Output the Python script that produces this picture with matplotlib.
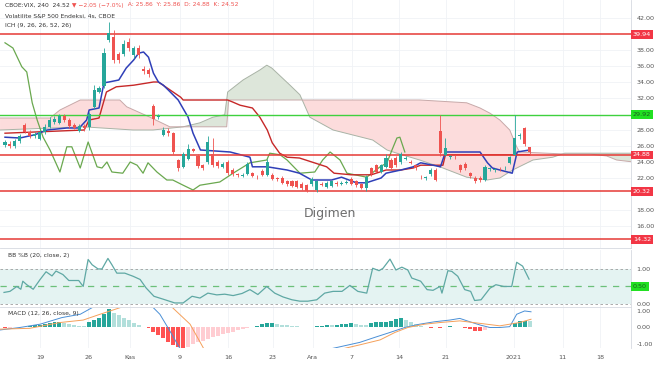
import numpy as np
import matplotlib.pyplot as plt
from matplotlib.transforms import blended_transform_factory

# 4h candles (bar index 0..106)
opens = [26.1, 26.3, 26.0, 26.6, 28.6, 27.8, 27.2, 26.9, 27.7, 28.4,
         29.0, 28.9, 29.8, 29.3, 28.6, 27.9, 28.5, 28.4, 30.9, 32.8,
         33.5, 39.3, 39.6, 37.5, 37.5, 39.0, 37.4, 38.2, 35.6, 35.5,
         31.0, 29.6, 27.4, 27.9, 27.6, 24.2, 23.4, 24.4, 25.6, 24.8,
         23.6, 24.0, 25.0, 24.0, 23.4, 24.0, 23.0, 22.4, 22.3, 22.5,
         22.6, 22.2, 22.9, 22.4, 22.4, 21.9, 22.0, 21.6, 21.6, 21.6,
         21.3, 21.1, 21.2, 20.5, 21.3, 20.9, 21.0, 21.4, 21.3, 21.4,
         21.9, 21.6, 21.2, 20.7, 23.2, 23.6, 22.8, 23.4, 24.3, 24.5,
         24.0, 24.4, 24.0, 23.6, 22.2, 22.0, 22.5, 23.0, 27.9, 24.9,
         24.6, 24.7, 23.6, 23.8, 22.6, 22.0, 22.0, 21.8, 23.1, 23.0,
         23.2, 23.2, 23.9, 24.9, 27.3, 28.3, 25.9]
highs = [26.8, 26.6, 26.9, 27.5, 28.9, 28.0, 27.7, 28.0, 28.7, 29.6,
         29.7, 30.0, 30.0, 29.5, 28.9, 28.8, 28.7, 30.3, 33.6, 33.5,
         38.2, 41.5, 40.5, 37.8, 39.3, 39.5, 38.5, 38.6, 36.0, 35.8,
         31.2, 30.0, 28.4, 28.2, 27.8, 24.4, 25.3, 26.2, 25.8, 25.0,
         23.8, 27.3, 27.0, 24.2, 24.0, 24.2, 23.2, 22.6, 22.6, 24.0,
         22.8, 22.4, 23.1, 24.4, 22.6, 22.1, 22.2, 21.8, 21.8, 21.8,
         21.5, 21.3, 22.1, 21.8, 21.5, 21.6, 21.8, 21.6, 21.6, 21.7,
         22.1, 21.8, 21.4, 22.4, 23.4, 23.8, 23.8, 25.0, 24.5, 24.7,
         25.3, 24.7, 24.2, 23.8, 22.4, 22.3, 23.2, 23.2, 29.9, 27.0,
         24.9, 24.9, 23.8, 24.0, 22.8, 22.2, 22.2, 23.6, 23.4, 23.3,
         23.4, 23.5, 24.8, 29.9, 27.6, 28.4, 25.9]
lows = [25.9, 25.8, 25.8, 26.4, 27.6, 27.0, 27.0, 26.7, 27.5, 28.2,
        28.8, 28.7, 29.0, 28.3, 28.1, 27.7, 27.9, 28.0, 30.6, 32.6,
        33.2, 39.0, 36.4, 36.4, 37.2, 37.9, 37.0, 37.0, 35.0, 34.6,
        28.6, 29.4, 27.2, 27.3, 25.0, 22.9, 23.2, 24.2, 25.2, 23.2,
        23.0, 23.8, 23.4, 23.3, 23.2, 22.4, 22.3, 22.1, 22.1, 22.4,
        22.1, 21.9, 22.2, 22.2, 21.7, 21.6, 21.2, 21.0, 20.9, 20.7,
        20.5, 20.2, 21.0, 20.3, 21.0, 20.8, 20.9, 21.0, 21.1, 21.2,
        21.1, 20.9, 20.6, 20.4, 22.3, 22.6, 22.6, 23.2, 23.0, 23.4,
        23.8, 24.2, 23.7, 23.0, 21.9, 21.8, 22.3, 21.6, 24.8, 24.7,
        24.4, 24.4, 22.8, 23.0, 22.0, 21.4, 21.5, 21.6, 22.9, 22.8,
        22.9, 23.0, 23.7, 24.7, 26.9, 26.0, 24.9]
closes = [26.5, 26.0, 26.6, 27.2, 27.8, 27.3, 27.5, 27.7, 28.4, 29.3,
          29.4, 29.7, 29.2, 28.5, 28.3, 28.5, 28.2, 30.0, 33.0, 33.2,
          37.6, 40.1, 36.8, 36.8, 38.8, 38.2, 38.2, 37.4, 35.4, 35.0,
          29.4, 29.8, 28.0, 27.6, 25.3, 23.2, 25.0, 25.6, 25.4, 23.5,
          23.3, 26.5, 23.6, 23.5, 23.8, 22.6, 22.5, 22.3, 22.4, 23.8,
          22.3, 22.1, 22.4, 24.0, 21.9, 21.8, 21.4, 21.2, 21.0, 20.9,
          20.7, 20.4, 21.9, 21.6, 21.1, 21.4, 21.6, 21.2, 21.4, 21.5,
          21.3, 21.1, 20.8, 22.1, 22.5, 22.8, 23.6, 24.5, 23.2, 23.6,
          25.0, 24.5, 23.9, 23.2, 22.1, 22.1, 23.0, 21.8, 25.1, 25.8,
          24.7, 24.6, 23.0, 23.2, 22.2, 21.6, 21.7, 23.4, 23.2, 23.1,
          23.1, 23.3, 24.6, 27.0, 27.4, 26.2, 25.2]

# Ichimoku lines (bar index, price)
tenkan_x = [0, 3, 6, 8.5, 12.5, 15, 16.5, 17, 19, 20, 21, 23, 24.5, 26, 27, 28, 29, 30, 31, 32,
            33, 35, 37, 38, 39.5, 45.5, 49.5, 50, 53, 57, 59.5, 62, 66, 68, 71, 73, 76, 77, 80, 82.5,
            84, 86.5, 88, 89, 96, 97.5, 98.5, 100, 102.5, 103.5, 106]
tenkan_y = [27.1, 27.0, 27.4, 28.0, 28.25, 28.25, 29.25, 30.5, 30.75, 33.9, 34.0, 34.25, 35.75, 36.75, 37.6, 37.75, 37.1, 35.1, 34.0, 33.6,
            33.0, 31.75, 29.6, 27.6, 25.5, 25.25, 24.6, 23.4, 23.4, 23.0, 22.6, 21.75, 21.75, 22.1, 21.4, 21.4, 22.0, 22.6, 23.0, 23.4,
            23.9, 23.6, 23.4, 25.25, 25.25, 23.9, 23.25, 23.0, 22.6, 25.25, 25.5]
kijun_x = [0, 16, 17, 19, 20.5, 22.5, 26, 30, 31, 35.5, 36, 45, 46, 47.5, 50, 51.5, 53, 54, 55.5, 57,
           59.5, 62, 65, 66.5, 70, 74, 77, 80, 82.5, 84, 88.5, 89, 106]
kijun_y = [27.6, 28.0, 29.25, 29.5, 32.75, 33.4, 33.6, 34.0, 34.0, 32.1, 31.75, 31.75, 31.5, 31.1, 30.75, 29.6, 28.0, 26.4, 25.1, 24.6,
           24.5, 24.0, 23.4, 22.6, 22.4, 22.4, 23.0, 23.0, 23.25, 23.6, 23.6, 24.9, 24.9]
chikou_x = [0, 1.6, 3.4, 4.4, 5.5, 6.5, 7.7, 9.1, 11.1, 12.5, 13.5, 15.2, 16.8, 18.6, 19.6, 20.6, 21.6, 23.8, 25.3, 26.7,
            27.9, 28.9, 30.7, 32.7, 33.9, 36.0, 38.0, 39.4, 43.4, 46.1, 49.5, 52.9, 53.5, 55.6, 57.0, 59.6, 62.6, 64.2, 65.7, 67.7,
            69.1, 73.1, 75.8, 77.2, 78.2, 79.2, 79.8, 80.8]
chikou_y = [38.9, 38.25, 35.9, 35.25, 31.4, 29.25, 27.1, 25.5, 22.75, 25.9, 25.9, 23.25, 26.5, 23.4, 23.25, 24.0, 22.75, 22.6, 24.0, 23.6,
            22.6, 23.9, 22.75, 21.75, 21.75, 21.1, 20.5, 21.1, 21.5, 22.6, 23.9, 24.25, 25.1, 24.9, 24.25, 22.6, 22.75, 24.25, 25.25, 24.25,
            22.6, 22.1, 23.4, 23.9, 25.5, 27.0, 27.1, 25.25]
spana_x = [-1, 15.8, 25.9, 29.9, 36, 39.4, 42, 44.4, 45, 48.1, 51.5, 52.9, 53.9, 57.6, 59.6, 61.6, 66.3, 74.3, 77.2, 79.2,
           83.8, 88.5, 93.3, 97.4, 100, 102.6, 106.7, 110.7, 113.1, 121.6, 127]
spana_y = [28.0, 28.4, 28.0, 28.0, 28.4, 28.9, 29.6, 29.9, 32.75, 34.25, 35.5, 36.1, 35.75, 33.6, 32.4, 29.6, 28.0, 26.75, 25.5, 25.1,
           24.25, 23.25, 22.1, 21.75, 22.0, 23.0, 24.25, 24.6, 25.1, 25.1, 25.1]
spanb_x = [-1, 9.1, 11.1, 15.2, 23.2, 24.6, 29.3, 33.3, 44.8, 45.2, 83.8, 93.3, 96, 98, 100, 102, 103.4, 104, 113.1, 118.2,
           121.6, 123.6, 127]
spanb_y = [29.5, 29.5, 30.5, 31.75, 31.75, 30.9, 29.6, 28.4, 28.4, 31.75, 31.75, 31.4, 30.75, 30.1, 29.25, 28.0, 25.9, 25.25, 25.0, 25.0,
           24.75, 24.25, 24.0]

levels_red = [39.94, 24.88, 20.32, 14.32]
level_green = 29.92
price_ticks = [16, 18, 22, 24, 26, 28, 32, 34, 36, 38, 42]

# BB %B
bbp_x = [-0.2, 1.0, 2.4, 3.2, 3.6, 4.4, 5.7, 7.1, 8.3, 9.5, 10.3, 11.7, 12.9, 14.9, 15.8, 16.8, 17.6, 18.8, 19.6, 20.8,
         21.6, 22.6, 24.2, 25.9, 27.3, 28.5, 30.1, 31.9, 34.3, 36.0, 37.8, 39.4, 41.0, 42.8, 44.4, 46.1, 47.9, 49.5, 51.1, 52.9,
         54.5, 56.2, 58.0, 59.6, 61.2, 63.0, 64.6, 66.3, 68.1, 69.7, 71.3, 73.1, 74.3, 75.6, 76.4, 77.8, 79.0, 80.2, 81.4, 82.2,
         84.0, 85.3, 86.5, 87.9, 88.3, 89.5, 90.3, 91.5, 92.9, 94.1, 94.9, 96.2, 98.0, 99.2, 100.8, 102.4, 103.4, 104.6, 105.9]
bbp_y = [0.33, 0.36, 0.50, 0.42, 0.65, 0.55, 0.42, 0.70, 0.92, 0.80, 0.94, 0.84, 0.67, 0.67, 0.50, 1.27, 1.12, 1.00, 1.00, 1.30,
         1.12, 0.88, 0.88, 0.79, 0.70, 0.46, 0.22, 0.14, 0.03, 0.03, 0.22, 0.17, 0.31, 0.26, 0.28, 0.24, 0.30, 0.41, 0.27, 0.50,
         0.31, 0.20, 0.12, 0.08, 0.08, 0.12, 0.31, 0.36, 0.36, 0.53, 0.36, 0.31, 1.02, 0.95, 1.02, 1.28, 0.97, 1.05, 0.97, 0.74,
         0.65, 0.41, 0.39, 0.50, 0.31, 0.95, 0.93, 0.79, 0.41, 0.36, 0.10, 0.12, 0.45, 0.55, 0.50, 0.50, 1.19, 1.08, 0.71]

# MACD
macd_hist = [-0.05, -0.03, 0.02, 0.04, 0.06, 0.10, 0.14, 0.18, 0.22, 0.28,
             0.32, 0.34, 0.30, 0.24, 0.18, 0.12, 0.08, 0.35, 0.45, 0.55,
             0.80, 1.10, 0.90, 0.75, 0.60, 0.45, 0.30, 0.18, 0.05, -0.06,
             -0.25, -0.45, -0.65, -0.85, -1.05, -1.20, -1.27, -1.15, -1.00, -0.90,
             -0.80, -0.70, -0.60, -0.50, -0.42, -0.34, -0.26, -0.18, -0.11, -0.05,
             0.06, 0.12, 0.20, 0.26, 0.27, 0.22, 0.18, 0.14, 0.10, 0.08,
             0.05, 0.03, 0.06, 0.10, 0.12, 0.14, 0.13, 0.15, 0.20, 0.24,
             0.26, 0.22, 0.18, 0.16, 0.28, 0.32, 0.34, 0.36, 0.40, 0.50,
             0.55, 0.45, 0.32, 0.20, 0.10, 0.04, -0.03, 0.02, -0.04, 0.05,
             0.07, 0.06, 0.02, -0.02, -0.12, -0.20, -0.20, -0.15, -0.04, -0.02,
             0.01, 0.02, 0.05, 0.30, 0.42, 0.42, 0.38]
macd_x = [-1, 3, 7.1, 11.5, 15.2, 18.2, 22.2, 27.3, 29.3, 31.3, 33.3, 35.4, 37.4, 43.4, 51.5, 59.6, 65.7, 68.7, 71.7, 74.7,
          77.8, 80.8, 83.8, 86.9, 89.9, 91.9, 93.9, 96, 98, 100, 102, 103.4, 105, 106.3]
macd_y = [-0.15, 0.0, 0.2, 0.6, 0.8, 1.3, 2.0, 1.8, 1.4, 0.8, -0.2, -1.3, -2.0, -2.5, -2.2, -1.8, -1.3, -1.1, -0.9, -0.6,
          -0.3, 0.0, 0.2, 0.35, 0.45, 0.55, 0.35, 0.15, 0.0, 0.0, 0.05, 0.8, 1.0, 0.95]
sig_x = [-1, 5, 11.1, 15.8, 19.2, 25.3, 31.3, 33.5, 37.4, 40.2, 45.5, 53.5, 61.6, 68.1, 71.7, 75.8, 78.8, 81.4, 84.8, 87.9,
         91.9, 96, 100, 104, 106.3]
sig_y = [-0.1, -0.05, 0.3, 0.45, 0.8, 1.4, 1.6, 1.3, 0.2, -1.3, -2.0, -2.2, -2.0, -1.3, -1.05, -0.75, -0.3, 0.0, 0.2, 0.3,
         0.4, 0.25, 0.1, 0.3, 0.5]

tick_pos = [7.1, 16.8, 25.3, 35.4, 45.1, 54.1, 62.2, 70.1, 79.6, 89.1, 102.8, 112.7, 120.2]
tick_lab = ['19', '26', 'Kas', '9', '16', '23', 'Ara', '7', '14', '21', '2021', '11', '18']

UP, DOWN = '#26a69a', '#ef5350'
GRID = '#f0f2f6'
TXT = '#555555'
XLIM = (-1.01, 126.5)

fig = plt.figure(figsize=(6.54, 3.66), dpi=100)

def style(ax):
    for s in ['top', 'left', 'bottom']:
        ax.spines[s].set_visible(False)
    ax.spines['right'].set_color('#d6d9e0')
    ax.spines['right'].set_linewidth(0.6)
    ax.yaxis.tick_right()
    ax.tick_params(axis='y', length=0, pad=4, labelsize=4.6, colors=TXT)
    ax.set_xlim(*XLIM)
    ax.set_xticks(tick_pos)
    for t in tick_pos:
        ax.axvline(t, color=GRID, lw=0.6, zorder=0)

# ---- main price panel
ax = fig.add_axes([0, 0.3224, 0.9648, 0.6776])
style(ax)
ax.set_ylim(13.25, 44.25)
ax.set_yticks(price_ticks)
ax.set_yticklabels([f'{v:.2f}' for v in price_ticks])
ax.tick_params(axis='x', length=0, labelbottom=False)
for v in price_ticks:
    ax.axhline(v, color=GRID, lw=0.6, zorder=0)
ax.spines['bottom'].set_visible(True)
ax.spines['bottom'].set_color('#d6d9e0')
ax.spines['bottom'].set_linewidth(0.6)

# cloud (dense grid only used to shade between the two span polylines)
g = np.linspace(-1, 127, 1500)
a = np.interp(g, spana_x, spana_y)
b = np.interp(g, spanb_x, spanb_y)
ax.fill_between(g, a, b, where=a >= b, color='#dde6da', lw=0, interpolate=True, zorder=1)
ax.fill_between(g, a, b, where=a < b, color='#fcdcdc', lw=0, interpolate=True, zorder=1)
ax.plot(spana_x, spana_y, color='#a9b3a6', lw=0.7, zorder=1.5)
ax.plot(spanb_x, spanb_y, color='#c7a9a9', lw=0.7, zorder=1.5)

ax.plot(chikou_x, chikou_y, color='#6aa84f', lw=0.9, zorder=2)
ax.plot(kijun_x, kijun_y, color='#c62828', lw=1.0, zorder=2.2)
ax.plot(tenkan_x, tenkan_y, color='#2f3fb8', lw=1.1, zorder=2.3)

for lv in levels_red:
    ax.axhline(lv, color='#e53935', lw=1.1, zorder=2.5)
ax.axhline(level_green, color='#3fd13f', lw=1.0, zorder=2.5)

idx = np.arange(len(closes))
o = np.array(opens); c = np.array(closes)
cols = [UP if cc >= oo else DOWN for oo, cc in zip(o, c)]
ax.vlines(idx, lows, highs, colors=cols, lw=0.6, zorder=3)
body = np.where(np.abs(c - o) < 0.1, 0.1, c - o)
ax.bar(idx, body, bottom=o, width=0.62, color=cols, lw=0, zorder=3.1)

tr = blended_transform_factory(ax.transAxes, ax.transData)
for lv in levels_red:
    ax.text(1.003, lv, f'{lv:.2f}', transform=tr, fontsize=4.6, color='white', va='center', ha='left',
            bbox=dict(boxstyle='square,pad=0.3', fc='#f23645', ec='none'), clip_on=False, zorder=6)
ax.text(1.003, level_green, f'{level_green:.2f}', transform=tr, fontsize=4.6, color='#1b5e20', va='center',
        ha='left', bbox=dict(boxstyle='square,pad=0.3', fc='#22e022', ec='none'), clip_on=False, zorder=6)

# header, pieces chained so they never overlap
t1 = fig.text(0.008, 1 - 5 / 366, 'CBOE:VIX, 240  24.52', fontsize=4.3, color='#333', va='center')
ann = ax.annotate(' ▼ −2.05 (−7.0%)', xy=(1, 0.5), xycoords=t1, fontsize=4.3, color='#ef5350',
                  va='center', ha='left', annotation_clip=False)
ax.annotate('  A: 25.86  Y: 25.86  D: 24.88  K: 24.52', xy=(1, 0.5), xycoords=ann, fontsize=4.3,
            color='#ef5350', va='center', ha='left', annotation_clip=False)
fig.text(0.008, 1 - 16 / 366, 'Volatilite S&P 500 Endeksi, 4s, CBOE', fontsize=4.3, color='#333', va='center')
fig.text(0.008, 1 - 25 / 366, 'ICH (9, 26, 26, 52, 26)', fontsize=4.3, color='#333', va='center')
fig.text(330 / 654, 1 - 214 / 366, 'Digimen', fontsize=9, color='#6d6d6d', ha='center', va='center')

# ---- BB %B
ax2 = fig.add_axes([0, 0.1612, 0.9648, 0.1557])
style(ax2)
ax2.set_ylim(-0.086, 1.54)
ax2.set_yticks([0, 1])
ax2.set_yticklabels(['0.00', '1.00'])
ax2.tick_params(axis='x', length=0, labelbottom=False)
ax2.axhspan(0, 1, color='#e4f3f2', lw=0, zorder=0.5)
ax2.axhline(1, color='#9e9e9e', lw=0.6, ls=(0, (3, 3)), zorder=1)
ax2.axhline(0, color='#9e9e9e', lw=0.6, ls=(0, (3, 3)), zorder=1)
ax2.axhline(0.5, color='#6cc07a', lw=0.9, ls=(0, (5, 5)), zorder=1)
ax2.plot(bbp_x, bbp_y, color='#5fa8a4', lw=0.9, zorder=2)
ax2.spines['bottom'].set_visible(True)
ax2.spines['bottom'].set_color('#d6d9e0')
ax2.spines['bottom'].set_linewidth(0.6)
tr2 = blended_transform_factory(ax2.transAxes, ax2.transData)
ax2.text(1.003, 0.5, '0.50', transform=tr2, fontsize=4.6, color='#1b5e20', va='center', ha='left',
         bbox=dict(boxstyle='square,pad=0.3', fc='#22e022', ec='none'), clip_on=False)
ax2.text(0.012, 0.9, 'BB %B (20, close, 2)', transform=ax2.transAxes, fontsize=4.3, color='#333', va='center')

# ---- MACD
ax3 = fig.add_axes([0, 0.0492, 0.9648, 0.1093])
style(ax3)
ax3.set_ylim(-1.24, 1.18)
ax3.set_yticks([-1, 0, 1])
ax3.set_yticklabels(['-1.00', '0.00', '1.00'])
hist_cols = []
for i, h in enumerate(macd_hist):
    prev = macd_hist[i - 1] if i > 0 else 0
    if h >= 0:
        hist_cols.append('#26a69a' if h >= prev else '#b2dfdb')
    else:
        hist_cols.append('#ff5252' if h <= prev else '#ffcdd2')
ax3.bar(np.arange(len(macd_hist)), macd_hist, width=0.8, color=hist_cols, lw=0, zorder=2)
ax3.plot(macd_x, macd_y, color='#4a8fd6', lw=0.7, zorder=3)
ax3.plot(sig_x, sig_y, color='#f5a05a', lw=0.7, zorder=3)
ax3.set_xticklabels(tick_lab)
ax3.tick_params(axis='x', length=0, pad=5, labelsize=4.6, colors=TXT)
ax3.text(0.012, 0.85, 'MACD (12, 26, close, 9)', transform=ax3.transAxes, fontsize=4.3, color='#333', va='center')

fig.savefig('out.png', dpi=100)
